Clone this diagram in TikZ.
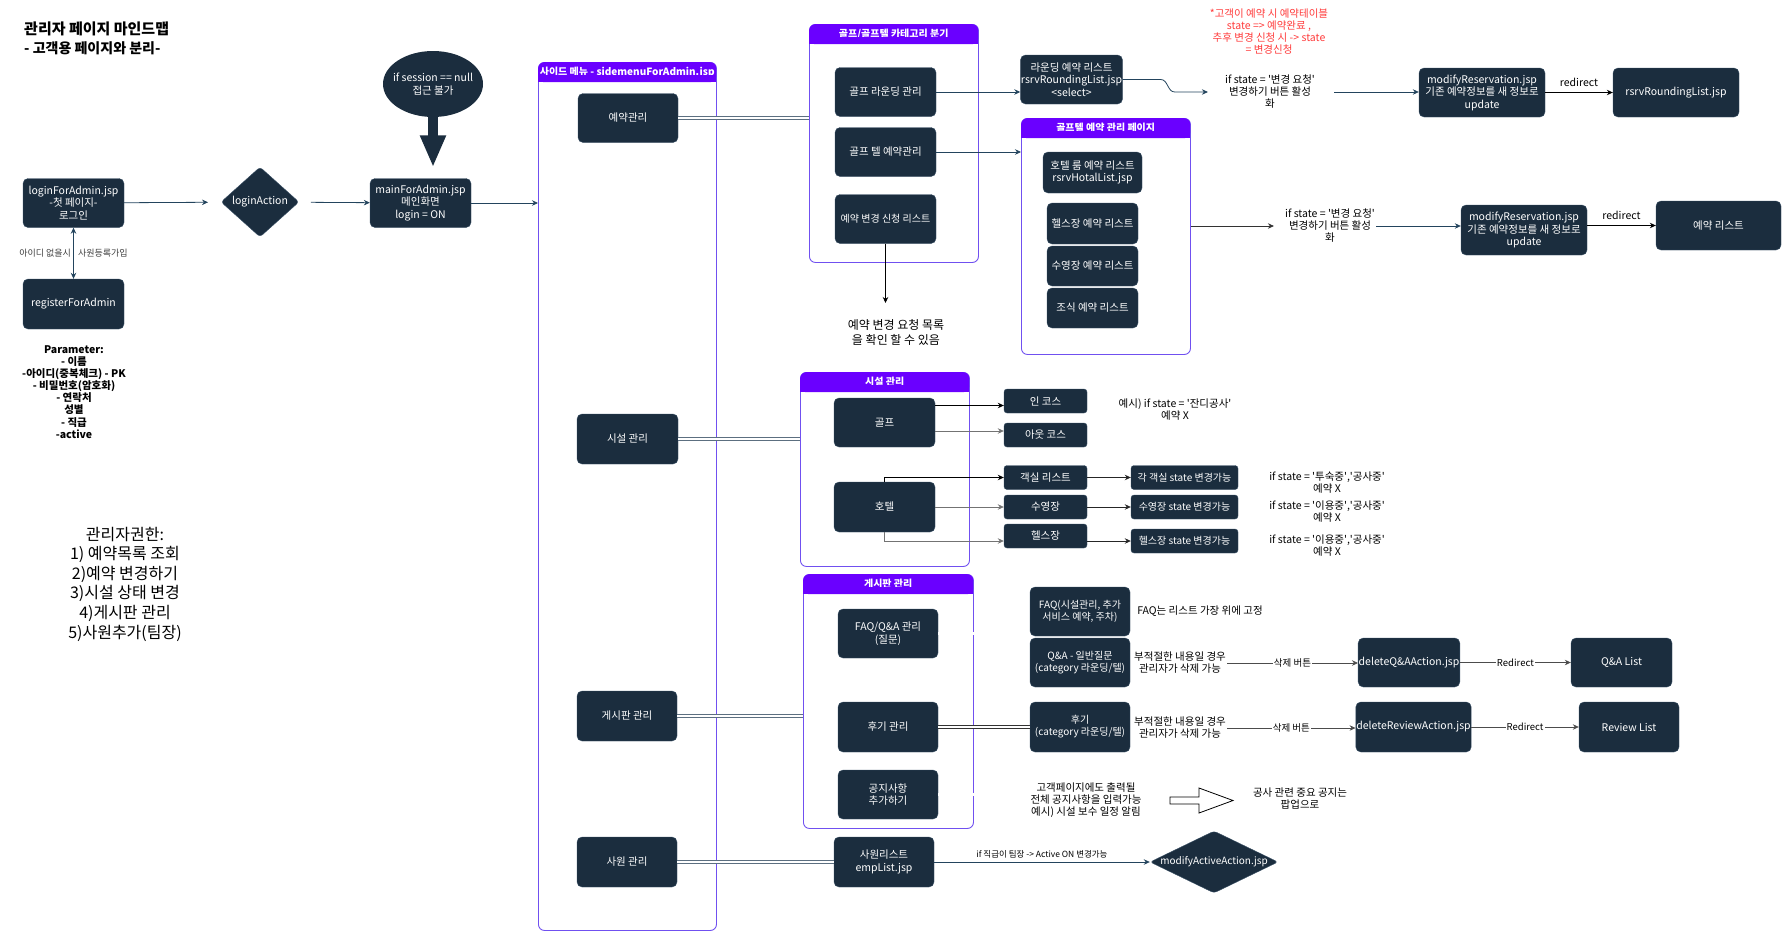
\documentclass[tikz,border=0pt]{standalone}
\usepackage{fontspec}
\setmainfont{Noto Sans CJK KR}
\usetikzlibrary{arrows.meta,shapes.geometric,positioning}

\definecolor{boxfill}{HTML}{1B2D3E}
\definecolor{boxline}{HTML}{3A5166}
\definecolor{arrc}{HTML}{23445D}
\definecolor{purp}{HTML}{6A00FF}
\definecolor{purpline}{HTML}{7050F0}
\definecolor{linkc}{HTML}{5C6F80}
\definecolor{redtxt}{HTML}{FF3B3B}

\newcommand{\sq}{\textquotesingle}

\tikzset{
  box/.style={rectangle, rounded corners=5pt, fill=boxfill, draw=boxline, text=white, align=center,
    inner sep=0.5pt, font=\fontsize{10.5}{12.5}\selectfont, minimum width=101pt, minimum height=49pt},
  sbox/.style={box, rounded corners=3pt, minimum width=83pt, minimum height=24pt},
  stbox/.style={box, rounded corners=3pt, minimum width=107pt, minimum height=24pt, font=\fontsize{10}{12}\selectfont},
  grp/.style={rectangle, rounded corners=6pt, draw=purpline, line width=0.9pt, anchor=north west, inner sep=0pt},
  hdr/.style={rectangle, rounded corners=6pt, fill=purp, text=white, anchor=north west, inner sep=0pt,
    minimum height=20pt, font=\bfseries\fontsize{10}{12}\selectfont},
  note/.style={align=center, inner sep=1pt, font=\fontsize{10.5}{12}\selectfont},
  dlab/.style={text=white, align=center, font=\fontsize{10.5}{12.5}\selectfont},
  arr/.style={draw=arrc, line width=0.8pt, ->},
  blk/.style={draw=black, line width=0.8pt, ->},
  link/.style={draw=linkc, double=white, double distance=2.2pt, line width=0.7pt},
  elab/.style={fill=white, inner sep=1pt, font=\fontsize{9.5}{11}\selectfont},
}

\begin{document}
\begin{tikzpicture}[x=1pt,y=-1pt,>={Stealth[length=6pt,width=5.5pt]}]
\useasboundingbox (0,0) rectangle (1789,937);

% title
\node[anchor=west, inner sep=0pt, font=\bfseries\fontsize{15}{18}\selectfont] (title) at (24,29) {관리자 페이지 마인드맵};
\node[anchor=west, inner sep=0pt, font=\bfseries\fontsize{14}{17}\selectfont] (subtitle) at (24,48) {- 고객용 페이지와 분리-};

% login and main page
\node[box] (login) at (73.5,203) {loginForAdmin.jsp\\-첫 페이지-\\로그인};
\node[box, minimum height=50pt] (register) at (73.5,304) {registerForAdmin};
\node[diamond, fill=boxfill, draw=boxline, rounded corners=3pt, minimum width=78pt, minimum height=70pt,
  inner sep=0pt, label={[dlab]center:loginAction}] (loginact) at (260,202) {};
\node[box] (main) at (420.5,203) {mainForAdmin.jsp\\메인화면\\login = ON};
\node[ellipse, fill=boxfill, minimum width=100pt, minimum height=66pt, inner sep=0pt,
  label={[dlab]center:{if session == null\\접근 불가}}] (sess) at (433,84) {};

\node[align=center, font=\bfseries\fontsize{10.5}{12.1}\selectfont] (param) at (74,392)
  {Parameter:\\- 이름\\-아이디(중복체크) - PK\\- 비밀번호(암호화)\\- 연락처\\성별\\- 직급\\-active};
\node[align=center, font=\fontsize{16}{19.6}\selectfont] (rights) at (125,584)
  {관리자권한:\\1) 예약목록 조회\\2)예약 변경하기\\3)시설 상태 변경\\4)게시판 관리\\5)사원추가(팀장)};

% groups with purple headers
\foreach \nm/\x/\y/\w/\h/\t in {
  side/538/62/178/868/{사이드 메뉴 - sidemenuForAdmin.jsp},
  golfcat/809/24/169/238/{골프/골프텔 카테고리 분기},
  hpage/1021/118/169/236/{골프텔 예약 관리 페이지},
  facil/800/372/169/194/{시설 관리},
  boardg/803/574/170/254/{게시판 관리}} {
  \node[grp, minimum width=\w pt, minimum height=\h pt] (\nm) at (\x,\y) {};
  \node[hdr, minimum width=\w pt] (\nm-h) at (\x,\y) {\t};
  \fill[purp] ([yshift=7pt]\nm-h.south west) rectangle (\nm-h.south east);
}

% login flow
\draw[arr, shorten >=13pt] (login) -- (loginact);
\draw[arr, shorten <=12pt] (loginact) -- (main);
\draw[arr] (main.east) -- (main.east -| side.west);
\draw[arr, <->] (login) -- (register)
  node[midway, font=\fontsize{9}{11}\selectfont, text=black!75] {아이디 없을시\hspace{7pt}사원등록가입};
\draw[draw=boxfill, line width=10pt, -{Triangle[width=24pt,length=32pt]}, shorten >=11pt] (sess.south) -- (sess.south |- main.north);

% side menu
\node[box, minimum width=100pt] (resv) at (628,118) {예약관리};
\node[box, minimum height=50pt] (facb) at (627.5,439) {시설 관리};
\node[box, minimum width=100pt, minimum height=50pt] (boardb) at (627,716) {게시판 관리};
\node[box, minimum width=100pt, minimum height=50pt] (empb) at (627,862) {사원 관리};

% golf / golftel
\node[box] (round) at (885.5,92) {골프 라운딩 관리};
\node[box] (gtel) at (885.5,152) {골프 텔 예약관리};
\node[box, font=\fontsize{10}{12}\selectfont] (chg) at (885.5,219) {예약 변경 신청 리스트};
\node[note, font=\fontsize{12}{15}\selectfont] (chgnote) at (896,332) {예약 변경 요청 목록\\을 확인 할 수 있음};
\coordinate (chgend) at (885.5,303);
\draw[link] (resv.east) -- (resv.east -| golfcat.west);
\draw[blk] (chg) -- (chgend);

\node[box, minimum width=99pt] (rlist) at (1071.5,79.5) {라운딩 예약 리스트\\rsrvRoundingList.jsp\\\textless select\textgreater};
\node[note, text=redtxt] (redn) at (1269,32) {*고객이 예약 시 예약테이블\\state => 예약완료 ,\\추후 변경 신청 시 -> state\\= 변경신청};
\node[note] (ifr) at (1270,92) {if state = \sq 변경 요청\sq\\변경하기 버튼 활성\\화};
\node[box, minimum width=126pt] (mod1) at (1482,92.5) {modifyReservation.jsp\\기존 예약정보를 새 정보로\\update};
\node[box, minimum width=126pt] (rr1) at (1676,92.5) {rsrvRoundingList.jsp};
\draw[arr] (round.east) -- (round.east -| rlist.west);
\draw[arr] (rlist.east) -- ++(38,0) to[out=0,in=180] ++(14,12.5) -- ([xshift=-16pt]ifr.west);
\draw[arr, shorten <=18pt] (ifr.east) -- (ifr.east -| mod1.west);
\draw[blk] (mod1) -- (rr1) node[midway, above=2pt, font=\fontsize{10.5}{12}\selectfont] {redirect};

\draw[arr] (gtel.east) -- (gtel.east -| hpage.west);
\foreach \nm/\y/\w/\h/\t in {
  hroom/172.5/99/41/{호텔 룸 예약 리스트\\rsrvHotalList.jsp},
  hgym/223.5/91/41/{헬스장 예약 리스트},
  hpool/266/91/40/{수영장 예약 리스트},
  hbf/308/91/40/{조식 예약 리스트}}
  \node[box, minimum width=\w pt, minimum height=\h pt] (\nm) at (1092.5,\y) {\t};

\node[note] (ifh) at (1330,226) {if state = \sq 변경 요청\sq\\변경하기 버튼 활성\\화};
\node[box, minimum width=126pt, minimum height=50pt] (mod2) at (1524,230) {modifyReservation.jsp\\기존 예약정보를 새 정보로\\update};
\node[box, minimum width=125pt] (rr2) at (1718.5,225.5) {예약 리스트};
\draw[blk, draw=black!80] (hpage.east |- ifh.west) -- ([xshift=-10pt]ifh.west);
\draw[arr] (ifh.east) -- (ifh.east -| mod2.west);
\draw[blk] (mod2.east |- rr2) -- (rr2.west) node[midway, above=2pt, font=\fontsize{10.5}{12}\selectfont] {redirect};

% facilities
\draw[link] (facb.east) -- (facb.east -| facil.west);
\node[box] (golf) at (884.5,422.5) {골프};
\node[box, minimum height=50pt] (htl) at (884.5,507) {호텔};
\node[sbox] (incs) at (1045.5,401) {인 코스};
\node[sbox] (outcs) at (1045.5,435) {아웃 코스};
\node[note] (note1) at (1175,410) {예시) if state = \sq 잔디공사\sq\\예약 X};
\draw[blk] ([yshift=17pt]golf.east) -- ([yshift=17pt]golf.east -| incs.west);
\draw[blk, draw=black!55] ([yshift=-8.5pt]golf.east) -- ([yshift=-8.5pt]golf.east -| outcs.west);

\foreach \nm/\y/\sy/\t/\s/\n in {
  room/477.5/477.5/객실 리스트/각 객실 state 변경가능/{if state = \sq 투숙중\sq,\sq 공사중\sq\\예약 X},
  pool/507/507/수영장/수영장 state 변경가능/{if state = \sq 이용중\sq,\sq 공사중\sq\\예약 X},
  gym/536/541/헬스장/헬스장 state 변경가능/{if state = \sq 이용중\sq,\sq 공사중\sq\\예약 X}} {
  \node[sbox] (\nm) at (1045.5,\y) {\t};
  \node[stbox] (s\nm) at (1184.5,\sy) {\s};
  \node[note] (n\nm) at (1327,\sy+5) {\n};
  \draw[blk, draw=black!85] (\nm.east |- s\nm) -- (s\nm.west);
}
\draw[blk] (htl.north) |- (room.west);
\draw[blk, draw=black!55] (htl.east) -- (pool.west);
\draw[blk, draw=black!55] (htl.south) |- ([yshift=-5pt]gym.west);

% board
\draw[link] (boardb.east) -- (boardb.east -| boardg.west);
\node[box, minimum width=100pt] (faqqa) at (888,633.5) {FAQ/Q\&A 관리\\(질문)};
\node[box, minimum width=100pt, minimum height=50pt] (rev) at (888,727) {후기 관리};
\node[box, minimum width=100pt] (notice) at (888,794.5) {공지사항\\추가하기};
\node[box, minimum width=100pt, font=\fontsize{10}{12}\selectfont] (faq) at (1080,611.5) {FAQ(시설관리, 추가\\서비스 예약, 주차)};
\node[box, minimum width=100pt, font=\fontsize{10}{12}\selectfont] (qa) at (1080,662.5) {Q\&A - 일반질문\\(category 라운딩/텔)};
\node[box, minimum width=100pt, minimum height=50pt, font=\fontsize{10}{12}\selectfont] (revb) at (1080,727) {후기\\(category 라운딩/텔)};
\node[note] (faqnote) at (1200,611) {FAQ는 리스트 가장 위에 고정};
\node[note] (bad1) at (1180,663) {부적절한 내용일 경우\\관리자가 삭제 가능};
\node[note] (bad2) at (1180,728) {부적절한 내용일 경우\\관리자가 삭제 가능};
\node[note] (noticet) at (1086,800) {고객페이지에도 출력될\\전체 공지사항을 입력가능\\예시) 시설 보수 일정 알림};
\node[note] (popup) at (1300,798) {공사 관련 중요 공지는\\팝업으로};
\node[box, minimum width=100pt] (delqa) at (1409,662.5) {deleteQ\&AAction.jsp};
\node[box] (qalist) at (1621.5,662.5) {Q\&A List};
\node[box, minimum width=109pt, minimum height=50pt] (delrev) at (1413.5,727) {deleteReviewAction.jsp};
\node[box, minimum width=100pt, minimum height=50pt] (revlist) at (1629,727) {Review List};

\draw[link] (faqqa.east) -- (faqqa.east -| qa.west);
\draw[link, draw=black!80] (rev) -- (revb);
\draw[link, draw=black] (notice.east) -- (notice.east -| noticet.west);
\draw[blk, draw=black!70] (bad1.east) -- (bad1.east -| delqa.west) node[midway, elab] {삭제 버튼};
\draw[blk, draw=black!70] (delqa) -- (qalist) node[midway, elab] {Redirect};
\draw[blk, draw=black!70] (bad2.east) -- (bad2.east -| delrev.west) node[midway, elab] {삭제 버튼};
\draw[blk, draw=black!70] (delrev) -- (revlist) node[midway, elab] {Redirect};
\draw[line width=0.8pt] (1170,797) -- (1199,797) -- (1199,788) -- (1233,800.5) -- (1199,813) -- (1199,804) -- (1170,804) -- cycle;

% employees
\node[box, minimum width=100pt, minimum height=50pt] (emplist) at (884,862) {사원리스트\\empList.jsp};
\node[diamond, fill=boxfill, draw=boxline, rounded corners=3pt, minimum width=128pt, minimum height=62pt,
  inner sep=0pt, label={[dlab, font=\fontsize{10}{12}\selectfont]center:modifyActiveAction.jsp}] (active) at (1214,862) {};
\draw[link] (empb) -- (emplist);
\draw[arr] (emplist) -- (active) node[midway, above, font=\fontsize{8.5}{10}\selectfont] {if 직급이 팀장 -> Active ON 변경가능};

\end{tikzpicture}
\end{document}
